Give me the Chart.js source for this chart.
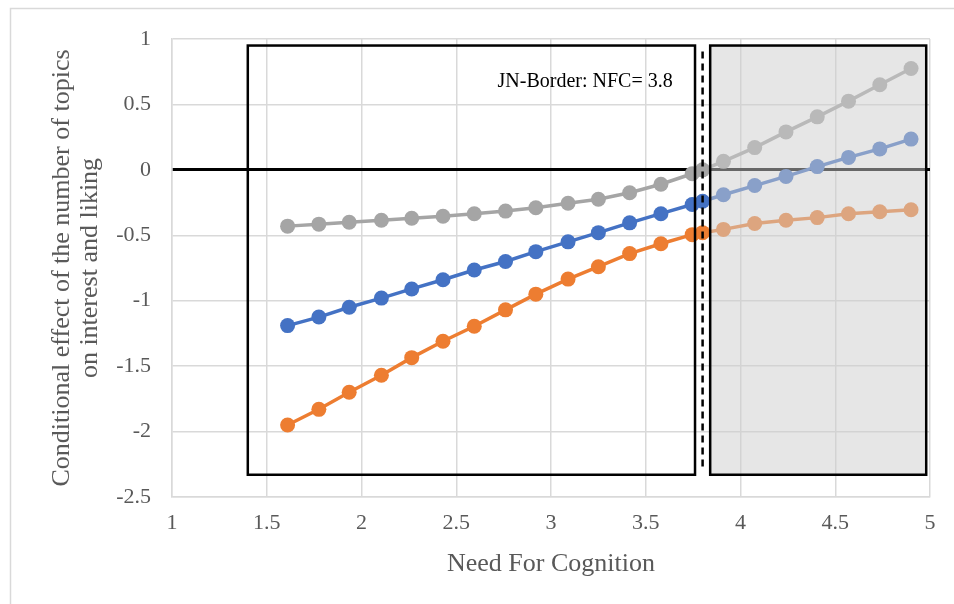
<!DOCTYPE html>
<html>
<head>
<meta charset="utf-8">
<script src="https://cdn.jsdelivr.net/npm/chart.js@4/dist/chart.umd.min.js"></script>
<style>
  html, body { margin: 0; padding: 0; background: #fff; }
  #jnChart { display: block; }
</style>
</head>
<body>
<canvas id="jnChart" width="954" height="604"></canvas>
<script>
// Need For Cognition values (moderator) incl. the JN point 3.8
const nfcValues = [1.61, 1.775, 1.935, 2.105, 2.265, 2.43, 2.595, 2.76, 2.92, 3.09, 3.25,
  3.415, 3.58, 3.745, 3.8, 3.91, 4.075, 4.24, 4.405, 4.57, 4.735, 4.9];
const upperCI = [-0.43, -0.415, -0.40, -0.385, -0.37, -0.355, -0.335, -0.315, -0.29, -0.255, -0.225,
  -0.175, -0.11, -0.03, 0.0, 0.065, 0.17, 0.29, 0.405, 0.525, 0.65, 0.775];
const effect = [-1.19, -1.125, -1.05, -0.98, -0.91, -0.84, -0.765, -0.70, -0.625, -0.55, -0.48,
  -0.405, -0.335, -0.265, -0.24, -0.19, -0.12, -0.05, 0.025, 0.095, 0.16, 0.235];
const lowerCI = [-1.95, -1.83, -1.70, -1.57, -1.435, -1.31, -1.195, -1.07, -0.95, -0.835, -0.74,
  -0.64, -0.565, -0.495, -0.48, -0.455, -0.41, -0.385, -0.365, -0.335, -0.32, -0.305];

const jnBorder = 3.8;
const jnLabel = "JN-Border: NFC= 3.8";
const leftBox = { x0: 1.4, x1: 3.76, y0: 0.95, y1: -2.33 };
const rightBox = { x0: 3.84, x1: 4.98, y0: 0.95, y1: -2.33 };

const serif = "'Liberation Serif', 'Times New Roman', serif";
const textGray = "#595959";
const gridGray = "#d9d9d9";

function toPoints(ys) {
  return nfcValues.map((x, i) => ({ x: x, y: ys[i] }));
}

function series(label, ys, color) {
  return {
    label: label,
    data: toPoints(ys),
    borderColor: color,
    backgroundColor: color,
    borderWidth: 3.5,
    pointRadius: 7.5,
    pointHoverRadius: 7.5,
    pointBorderWidth: 0,
    tension: 0,
  };
}

// white page + light frame around the chart
const frame = {
  id: "frame",
  beforeDraw(chart) {
    const c = chart.ctx;
    c.save();
    c.fillStyle = "#fff";
    c.fillRect(0, 0, chart.width, chart.height);
    c.strokeStyle = gridGray;
    c.lineWidth = 1.5;
    c.strokeRect(10.5, 8.5, chart.width, chart.height);
    c.restore();
  },
};

// JN region boxes, border line and label
const jnRegions = {
  id: "jnRegions",
  afterDatasetsDraw(chart) {
    const c = chart.ctx;
    const xs = chart.scales.x, ys = chart.scales.y;
    const rect = (b) => [xs.getPixelForValue(b.x0), ys.getPixelForValue(b.y0),
      xs.getPixelForValue(b.x1) - xs.getPixelForValue(b.x0),
      ys.getPixelForValue(b.y1) - ys.getPixelForValue(b.y0)];
    c.save();
    const r = rect(rightBox);
    c.fillStyle = "rgba(205,205,205,0.5)";
    c.fillRect(r[0], r[1], r[2], r[3]);
    c.strokeStyle = "#000";
    c.lineWidth = 2.5;
    c.strokeRect(r[0], r[1], r[2], r[3]);
    const l = rect(leftBox);
    c.strokeRect(l[0], l[1], l[2], l[3]);

    const bx = xs.getPixelForValue(jnBorder);
    c.setLineDash([7, 5]);
    c.beginPath();
    c.moveTo(bx, ys.getPixelForValue(leftBox.y0) + 6);
    c.lineTo(bx, ys.getPixelForValue(leftBox.y1) - 4);
    c.stroke();
    c.setLineDash([]);

    c.fillStyle = "#000";
    c.font = "20px " + serif;
    c.textAlign = "center";
    c.textBaseline = "middle";
    c.fillText(jnLabel, xs.getPixelForValue(3.18), ys.getPixelForValue(0.67));
    c.restore();
  },
};

new Chart("jnChart", {
  type: "line",
  data: {
    datasets: [
      series("Upper", upperCI, "#a5a5a5"),
      series("Effect", effect, "#4472c4"),
      series("Lower", lowerCI, "#ed7d31"),
    ],
  },
  options: {
    responsive: false,
    animation: false,
    events: [],
    layout: { padding: { left: 10, top: 39, right: 24, bottom: 20 } },
    plugins: {
      legend: { display: false },
      tooltip: { enabled: false },
    },
    scales: {
      x: {
        type: "linear",
        min: 1,
        max: 5,
        ticks: {
          stepSize: 0.5,
          padding: 13,
          color: textGray,
          font: { family: serif, size: 22 },
          maxRotation: 0,
          callback: (v) => String(v),
        },
        grid: { color: gridGray, lineWidth: 1.5, drawTicks: false },
        border: { color: gridGray, width: 1.5 },
        title: {
          display: true,
          text: "Need For Cognition",
          color: textGray,
          font: { family: serif, size: 26, lineHeight: 1.1 },
          padding: { top: 0, bottom: 6 },
        },
        afterFit(scale) { scale.height = 87; },
      },
      y: {
        min: -2.5,
        max: 1,
        ticks: {
          stepSize: 0.5,
          padding: 21,
          color: textGray,
          font: { family: serif, size: 22 },
          callback: (v) => String(v),
        },
        grid: {
          color: (ctx) => (ctx.tick && ctx.tick.value === 0 ? "#000" : gridGray),
          lineWidth: (ctx) => (ctx.tick && ctx.tick.value === 0 ? 3 : 1.5),
          drawTicks: false,
        },
        border: { color: gridGray, width: 1.5 },
        title: {
          display: true,
          text: ["Conditional effect of the number of topics", "on interest and liking"],
          color: textGray,
          font: { family: serif, size: 26, lineHeight: 1.08 },
          padding: { top: 38, bottom: 0 },
        },
        afterFit(scale) { scale.width = 162; },
      },
    },
  },
  plugins: [frame, jnRegions],
});
</script>
</body>
</html>
